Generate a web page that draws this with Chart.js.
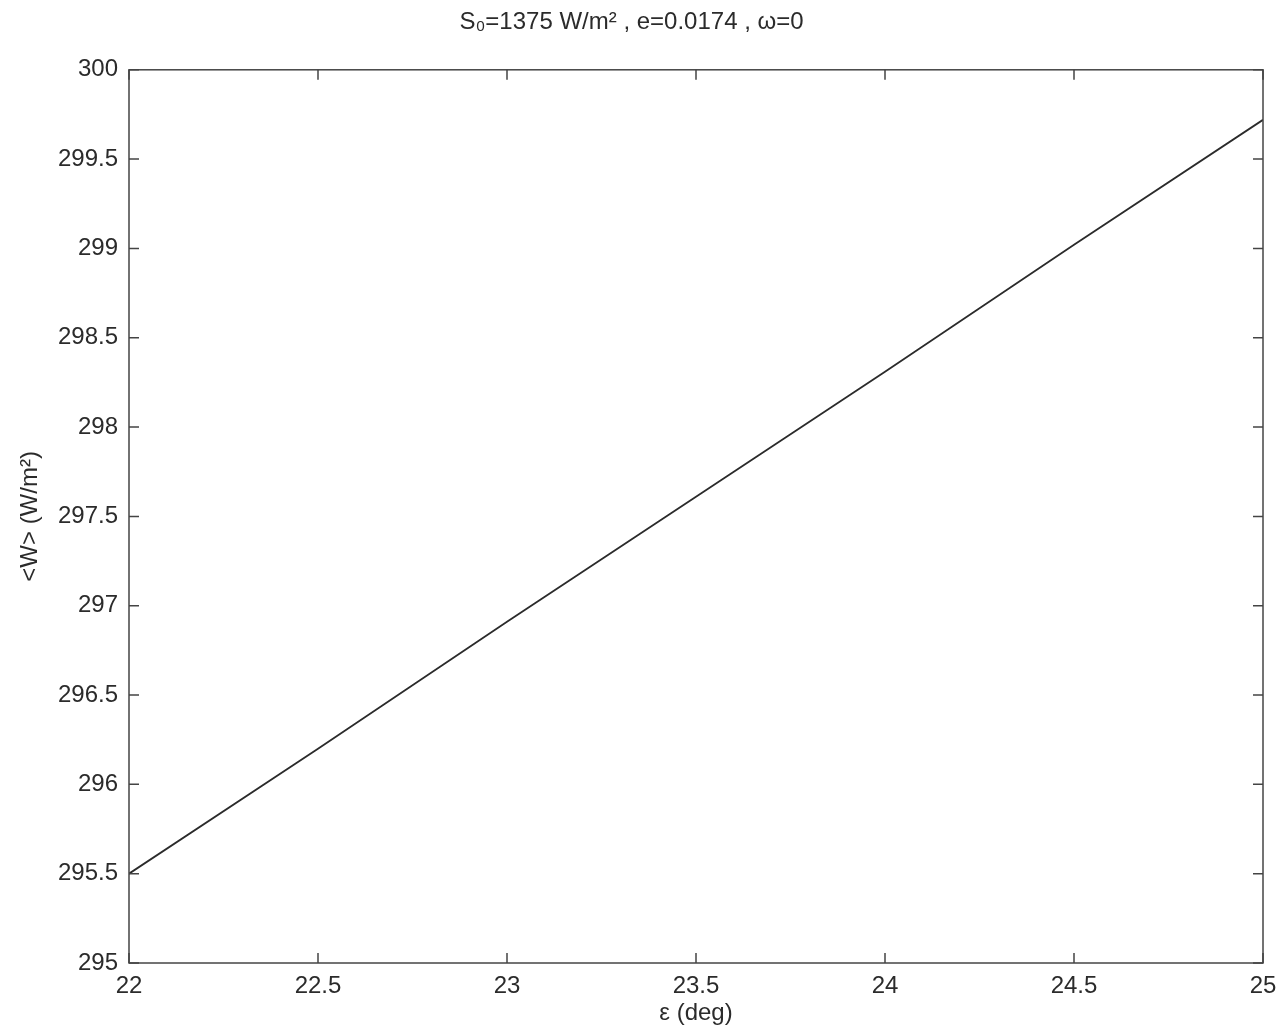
<!DOCTYPE html>
<html>
<head>
<meta charset="utf-8">
<script src="https://cdn.jsdelivr.net/npm/chart.js@4/dist/chart.umd.min.js"></script>
<style>
  html, body { margin: 0; padding: 0; background: #fff; }
  canvas { display: block; }
</style>
</head>
<body>
<canvas id="chart" width="1287" height="1036"></canvas>
<script>
// obliquity (deg) vs annual mean insolation <W>
const epsilon = [22, 22.5, 23, 23.5, 24, 24.5, 25];
const meanW = [295.50, 296.20, 296.91, 297.61, 298.31, 299.02, 299.72];

const xTicks = [22, 22.5, 23, 23.5, 24, 24.5, 25];
const yTicks = [295, 295.5, 296, 296.5, 297, 297.5, 298, 298.5, 299, 299.5, 300];

const FONT = "'Liberation Sans', Arial, Helvetica, sans-serif";
const INK = '#2b2b2b';

// matlab-like box with inward ticks on all 4 sides
const boxPlugin = {
  id: 'box',
  afterDraw(chart) {
    const { ctx, chartArea: a, scales: { x, y } } = chart;
    const len = 10;
    ctx.save();
    ctx.strokeStyle = '#444';
    ctx.lineWidth = 1.5;
    ctx.strokeRect(a.left, a.top, a.right - a.left, a.bottom - a.top);
    ctx.beginPath();
    for (const v of xTicks) {
      const px = x.getPixelForValue(v);
      ctx.moveTo(px, a.bottom); ctx.lineTo(px, a.bottom - len);
      ctx.moveTo(px, a.top); ctx.lineTo(px, a.top + len);
    }
    for (const v of yTicks) {
      const py = y.getPixelForValue(v);
      ctx.moveTo(a.left, py); ctx.lineTo(a.left + len, py);
      ctx.moveTo(a.right, py); ctx.lineTo(a.right - len, py);
    }
    ctx.stroke();
    ctx.restore();
  }
};

new Chart(document.getElementById('chart'), {
  type: 'line',
  data: {
    datasets: [{
      data: epsilon.map((e, i) => ({ x: e, y: meanW[i] })),
      borderColor: INK,
      borderWidth: 1.8,
      pointRadius: 0,
      tension: 0,
      fill: false
    }]
  },
  options: {
    responsive: false,
    animation: false,
    layout: { padding: { left: 0, right: 24, top: 0, bottom: 0 } },
    plugins: {
      legend: { display: false },
      tooltip: { enabled: false },
      title: {
        display: true,
        text: 'S\u2080=1375 W/m\u00B2 , e=0.0174 , \u03C9=0',
        color: INK,
        font: { family: FONT, size: 24, weight: 'normal' },
        padding: { top: 8, bottom: 33 }
      }
    },
    scales: {
      x: {
        type: 'linear',
        min: 22, max: 25,
        afterBuildTicks: s => { s.ticks = xTicks.map(v => ({ value: v })); },
        afterFit: s => { s.height = 73; },
        grid: { display: false, drawTicks: false },
        border: { display: false },
        ticks: { color: INK, padding: 9, font: { family: FONT, size: 24 }, callback: v => String(v) },
        title: {
          display: true, text: '\u03B5 (deg)', color: INK,
          font: { family: FONT, size: 24 }, padding: { top: 0, bottom: 8 }
        }
      },
      y: {
        type: 'linear',
        min: 295, max: 300,
        afterBuildTicks: s => { s.ticks = yTicks.map(v => ({ value: v })); },
        afterFit: s => { s.width = 129; },
        grid: { display: false, drawTicks: false },
        border: { display: false },
        ticks: { color: INK, padding: 11, font: { family: FONT, size: 24 }, callback: v => String(v) },
        title: {
          display: true, text: '<W> (W/m\u00B2)', color: INK,
          font: { family: FONT, size: 24 }, padding: { top: 16, bottom: 0 }
        }
      }
    }
  },
  plugins: [boxPlugin]
});
</script>
</body>
</html>
